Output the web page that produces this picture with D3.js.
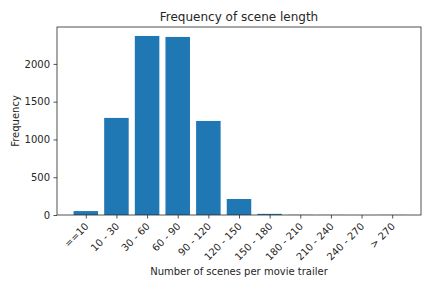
<!DOCTYPE html>
<html>
<head>
<meta charset="utf-8">
<script src="https://cdn.jsdelivr.net/npm/d3@7"></script>
<style>
  body { margin: 0; background: #fff; }
  text { font-family: "DejaVu Sans", sans-serif; fill: #262626; }
</style>
</head>
<body>
<div id="chart"></div>
<script>
// Datos del gráfico
const categorias = ["==10", "10 - 30", "30 - 60", "60 - 90", "90 - 120", "120 - 150",
                    "150 - 180", "180 - 210", "210 - 240", "240 - 270", "> 270"];
const frecuencias = [52, 1285, 2370, 2357, 1245, 212, 15, 2, 1, 0, 1];
const ticksY = [0, 500, 1000, 1500, 2000];

const width = 432, height = 288;
const margen = { left: 57, right: 11, top: 27, bottom: 73 };

const svg = d3.select("#chart").append("svg")
  .attr("width", width).attr("height", height);

// Escala x tipo matplotlib: barras de ancho 0.8 con margen 5%
const n = categorias.length;
const ancho = 0.8;
const rango = (n - 1) + ancho;
const x = d3.scaleLinear()
  .domain([-ancho / 2 - rango * 0.05, n - 1 + ancho / 2 + rango * 0.05])
  .range([margen.left, width - margen.right]);

const y = d3.scaleLinear()
  .domain([0, d3.max(frecuencias) * 1.05])
  .range([height - margen.bottom, margen.top]);

// Barras
svg.append("g").selectAll("rect")
  .data(frecuencias)
  .join("rect")
  .attr("x", (d, i) => x(i - ancho / 2))
  .attr("width", x(ancho) - x(0))
  .attr("y", d => y(d))
  .attr("height", d => y(0) - y(d))
  .attr("fill", "#1f77b4");

// Eje y
const ejeY = svg.append("g")
  .attr("transform", `translate(${margen.left},0)`)
  .call(d3.axisLeft(y).tickValues(ticksY).tickFormat(d3.format("d")).tickSize(3.5).tickPadding(3.5));
ejeY.select(".domain").remove();
ejeY.selectAll("text").style("font-size", "10px").attr("fill", "#262626");
ejeY.selectAll("line").attr("stroke", "#262626").attr("stroke-width", 0.8);

// Eje x
const ejeX = svg.append("g")
  .attr("transform", `translate(0,${height - margen.bottom})`)
  .call(d3.axisBottom(x).tickValues(d3.range(n)).tickFormat(i => categorias[i]).tickSize(3.5));
ejeX.select(".domain").remove();
ejeX.selectAll("line").attr("stroke", "#262626").attr("stroke-width", 0.8);
ejeX.selectAll("text")
  .style("font-size", "10px")
  .attr("fill", "#262626")
  .attr("text-anchor", "end")
  .attr("dy", null)
  .attr("y", 0)
  .attr("transform", "translate(3,12) rotate(-45)");

// Marco
svg.append("rect")
  .attr("x", margen.left).attr("y", margen.top)
  .attr("width", width - margen.left - margen.right)
  .attr("height", height - margen.top - margen.bottom)
  .attr("fill", "none").attr("stroke", "#262626").attr("stroke-width", 0.8);

// Textos
svg.append("text")
  .attr("x", (margen.left + width - margen.right) / 2).attr("y", 21)
  .attr("text-anchor", "middle").style("font-size", "12px")
  .text("Frequency of scene length");

svg.append("text")
  .attr("x", (margen.left + width - margen.right) / 2).attr("y", 275)
  .attr("text-anchor", "middle").style("font-size", "10px")
  .text("Number of scenes per movie trailer");

svg.append("text")
  .attr("transform", `translate(19,${(margen.top + height - margen.bottom) / 2}) rotate(-90)`)
  .attr("text-anchor", "middle").style("font-size", "10px")
  .text("Frequency");
</script>
</body>
</html>
